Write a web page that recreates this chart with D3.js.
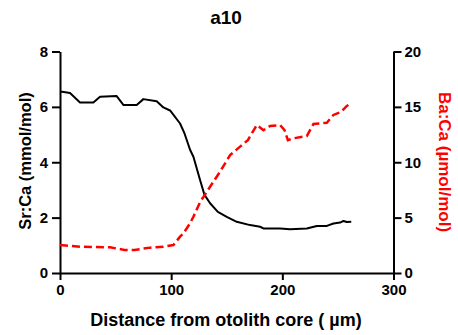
<!DOCTYPE html>
<html><head><meta charset="utf-8">
<script src="https://cdn.jsdelivr.net/npm/d3@7"></script>
<style>
body{margin:0;background:#fff;}
text{font-family:"Liberation Sans",Arial,sans-serif;font-weight:bold;}
</style></head>
<body><svg id="c" width="458" height="335"></svg>
<script>
const title = "a10";
const xTicks = [0, 100, 200, 300];
const srTicks = [0, 2, 4, 6, 8];
const baTicks = [0, 5, 10, 15, 20];
const srDist = [0, 2, 9, 18, 30, 36, 51, 57, 69, 75, 87, 93, 99, 108, 112, 117, 120, 126, 130, 135, 142, 150, 159, 171, 180, 183, 198, 207, 222, 231, 240, 246, 252, 255, 258, 262];
const srVals = [6.55, 6.55, 6.5, 6.16, 6.16, 6.37, 6.39, 6.07, 6.07, 6.28, 6.2, 5.98, 5.87, 5.4, 5.04, 4.45, 4.2, 3.36, 2.82, 2.52, 2.21, 2.03, 1.85, 1.73, 1.67, 1.61, 1.61, 1.58, 1.61, 1.70, 1.70, 1.79, 1.82, 1.88, 1.84, 1.85];
const baDist = [0, 18, 45, 58, 67, 81, 93, 102, 108, 111, 117, 120, 126, 135, 144, 153, 162, 169, 177, 183, 189, 198, 202, 205, 210, 222, 228, 240, 246, 253, 258, 262];
const baVals = [2.53, 2.38, 2.32, 2.08, 2.08, 2.29, 2.38, 2.53, 3.28, 3.58, 4.49, 5.08, 6.4, 7.79, 9.15, 10.65, 11.41, 12.0, 13.36, 12.9, 13.27, 13.36, 12.9, 12.0, 12.16, 12.37, 13.45, 13.57, 14.27, 14.56, 15.08, 15.32];

const svg = d3.select("#c");
const L = 60, R = 393.5, T = 51.5, B = 273;
const x = d3.scaleLinear().domain([0, 300]).range([L, R]);
const ySr = d3.scaleLinear().domain([0, 8]).range([B, T]);
const yBa = d3.scaleLinear().domain([0, 20]).range([B, T]);

function styleAxis(g){
  g.select(".domain").attr("stroke","#000").attr("stroke-width",2);
  g.selectAll(".tick line").attr("stroke","#000").attr("stroke-width",2);
  g.selectAll(".tick text").attr("fill","#000").style("font-size","15px").style("font-weight","bold");
}
svg.append("g").attr("transform",`translate(0,${B})`)
  .call(d3.axisBottom(x).tickValues(xTicks).tickSize(7).tickPadding(4).tickSizeOuter(0))
  .call(styleAxis);
svg.append("g").attr("transform",`translate(${L},0)`)
  .call(d3.axisLeft(ySr).tickValues(srTicks).tickSize(8).tickPadding(4).tickSizeOuter(0))
  .call(styleAxis);
svg.append("g").attr("transform",`translate(${R},0)`)
  .call(d3.axisRight(yBa).tickValues(baTicks).tickSize(8).tickPadding(3).tickSizeOuter(0))
  .call(styleAxis);

const srLine = d3.line().x((d,i)=>x(srDist[i])).y(d=>ySr(d));
svg.append("path").attr("d", srLine(srVals)).attr("fill","none")
  .attr("stroke","#000").attr("stroke-width",2).attr("stroke-linejoin","round");
const baLine = d3.line().x((d,i)=>x(baDist[i])).y(d=>yBa(d));
svg.append("path").attr("d", baLine(baVals)).attr("fill","none")
  .attr("stroke","#ff0000").attr("stroke-width",2.5).attr("stroke-dasharray","8,4");

svg.append("text").attr("x",226).attr("y",24).attr("text-anchor","middle")
  .style("font-size","19px").text(title);
svg.append("text").attr("x",226).attr("y",326).attr("text-anchor","middle")
  .style("font-size","18px").text("Distance from otolith core ( µm)");
svg.append("text").attr("transform","translate(31,161) rotate(-90)").attr("text-anchor","middle")
  .style("font-size","16.5px").text("Sr:Ca (mmol/mol)");
svg.append("text").attr("transform","translate(439,162) rotate(90)").attr("text-anchor","middle")
  .attr("fill","#ff0000").style("font-size","17px").text("Ba:Ca (µmol/mol)");
</script></body></html>
